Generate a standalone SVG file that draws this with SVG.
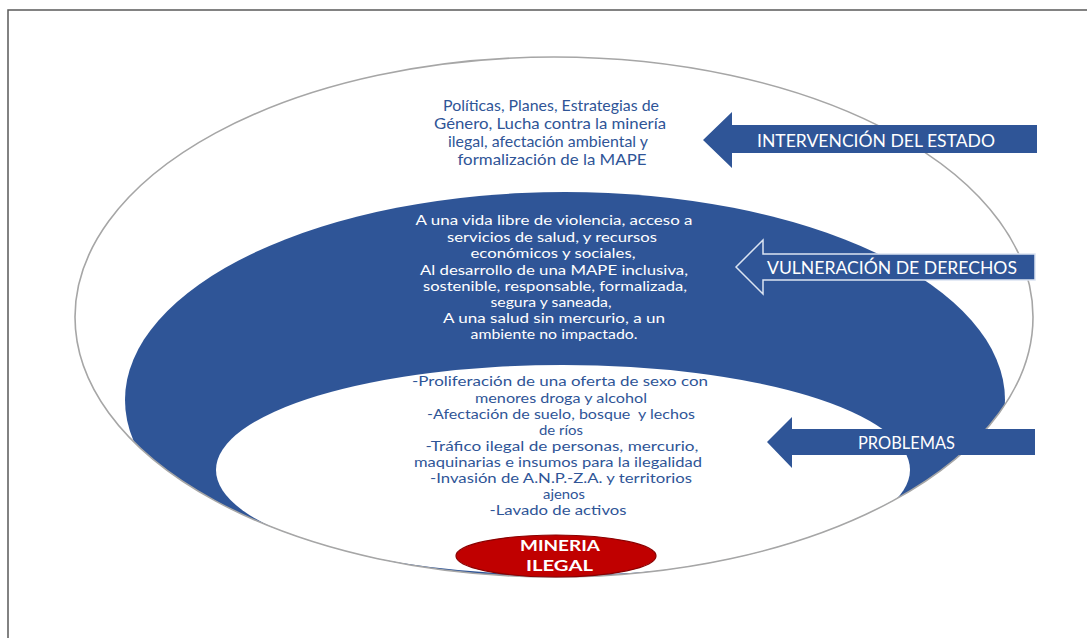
<svg xmlns="http://www.w3.org/2000/svg" width="1087" height="638" viewBox="0 0 1087 638">
<style>
.navy{fill:#2F5597;font-family:Lato,"Liberation Sans",sans-serif;text-anchor:middle}
.wt{fill:#ffffff;font-family:Lato,"Liberation Sans",sans-serif;text-anchor:middle}
.arrow{fill:#2F5597}
</style>
<defs>
<clipPath id="outerClip"><ellipse cx="554" cy="317" rx="479" ry="260"/></clipPath>
</defs>
<rect x="0" y="0" width="1087" height="638" fill="#ffffff"/>
<rect x="8" y="10" width="1100" height="650" fill="none" stroke="#5a5a5a" stroke-width="1.5"/>

<g id="outer-ellipse">
<ellipse cx="554" cy="317" rx="479" ry="260" fill="#ffffff"/>
</g>
<g id="rights-band" clip-path="url(#outerClip)">
<ellipse cx="565" cy="400" rx="440" ry="208" fill="#2F5597"/>
<ellipse cx="563" cy="470" rx="347" ry="105" fill="#ffffff"/>
</g>
<ellipse cx="554" cy="317" rx="479" ry="260" fill="none" stroke="#a6a6a6" stroke-width="1.6"/>

<g id="state-text" font-size="15">
<text class="navy" x="551" y="111" textLength="216" lengthAdjust="spacingAndGlyphs">Políticas, Planes, Estrategias de</text>
<text class="navy" x="550" y="129" textLength="232" lengthAdjust="spacingAndGlyphs">Género, Lucha contra la minería</text>
<text class="navy" x="548" y="147" textLength="200" lengthAdjust="spacingAndGlyphs">ilegal, afectación ambiental y</text>
<text class="navy" x="552" y="165" textLength="189" lengthAdjust="spacingAndGlyphs">formalización de la MAPE</text>
</g>

<g id="rights-text" font-size="13.5">
<text class="wt" x="554" y="225" textLength="277" lengthAdjust="spacingAndGlyphs">A una vida libre de violencia, acceso a</text>
<text class="wt" x="552" y="241.5" textLength="210" lengthAdjust="spacingAndGlyphs">servicios de salud, y recursos</text>
<text class="wt" x="553" y="258" textLength="165" lengthAdjust="spacingAndGlyphs">económicos y sociales,</text>
<text class="wt" x="554" y="274.5" textLength="268" lengthAdjust="spacingAndGlyphs">Al desarrollo de una MAPE inclusiva,</text>
<text class="wt" x="555" y="291" textLength="264" lengthAdjust="spacingAndGlyphs">sostenible, responsable, formalizada,</text>
<text class="wt" x="551" y="307" textLength="121" lengthAdjust="spacingAndGlyphs">segura y saneada,</text>
<text class="wt" x="554" y="323" textLength="222" lengthAdjust="spacingAndGlyphs">A una salud sin mercurio, a un</text>
<text class="wt" x="554" y="339" textLength="167" lengthAdjust="spacingAndGlyphs">ambiente no impactado.</text>
</g>

<g id="problems-text" font-size="13.5">
<text class="navy" x="560" y="386" textLength="296" lengthAdjust="spacingAndGlyphs">-Proliferación de una oferta de sexo con</text>
<text class="navy" x="561" y="402.5" textLength="172" lengthAdjust="spacingAndGlyphs">menores droga y alcohol</text>
<text class="navy" x="561" y="419" textLength="268" lengthAdjust="spacingAndGlyphs" xml:space="preserve">-Afectación de suelo, bosque  y lechos</text>
<text class="navy" x="561" y="435" textLength="44" lengthAdjust="spacingAndGlyphs">de ríos</text>
<text class="navy" x="562" y="451" textLength="273" lengthAdjust="spacingAndGlyphs">-Tráfico ilegal de personas, mercurio,</text>
<text class="navy" x="558" y="467" textLength="288" lengthAdjust="spacingAndGlyphs">maquinarias e insumos para la ilegalidad</text>
<text class="navy" x="561" y="483" textLength="262" lengthAdjust="spacingAndGlyphs">-Invasión de A.N.P.-Z.A. y territorios</text>
<text class="navy" x="564" y="499" textLength="42" lengthAdjust="spacingAndGlyphs">ajenos</text>
<text class="navy" x="558" y="515" textLength="137" lengthAdjust="spacingAndGlyphs">-Lavado de activos</text>
</g>

<g id="mineria-ilegal">
<ellipse cx="556" cy="556" rx="100" ry="21" fill="#C00000" stroke="#8a0000" stroke-width="1.2"/>
<text class="wt" x="560" y="551" font-size="15" font-weight="bold" textLength="80" lengthAdjust="spacingAndGlyphs">MINERIA</text>
<text class="wt" x="559.5" y="571" font-size="15" font-weight="bold" textLength="67" lengthAdjust="spacingAndGlyphs">ILEGAL</text>
</g>

<g id="connectors">
<g id="arrow-intervencion">
<polygon class="arrow" points="703,140 732,112 732,125 1037,125 1037,153 732,153 732,168"/>
<text class="wt" x="876" y="147" font-size="17" textLength="238" lengthAdjust="spacingAndGlyphs">INTERVENCIÓN DEL ESTADO</text>
</g>
<g id="arrow-vulneracion">
<polygon class="arrow" points="736,267 763,240 763,254 1035,254 1035,280 763,280 763,294" stroke="#dbe4f2" stroke-width="1.5"/>
<text class="wt" x="892" y="273.5" font-size="17" textLength="250" lengthAdjust="spacingAndGlyphs">VULNERACIÓN DE DERECHOS</text>
</g>
<g id="arrow-problemas">
<polygon class="arrow" points="767,442 792,417 792,429 1035,429 1035,455 792,455 792,468"/>
<text class="wt" x="906.5" y="449" font-size="17" textLength="97" lengthAdjust="spacingAndGlyphs">PROBLEMAS</text>
</g>
</g>
</svg>
